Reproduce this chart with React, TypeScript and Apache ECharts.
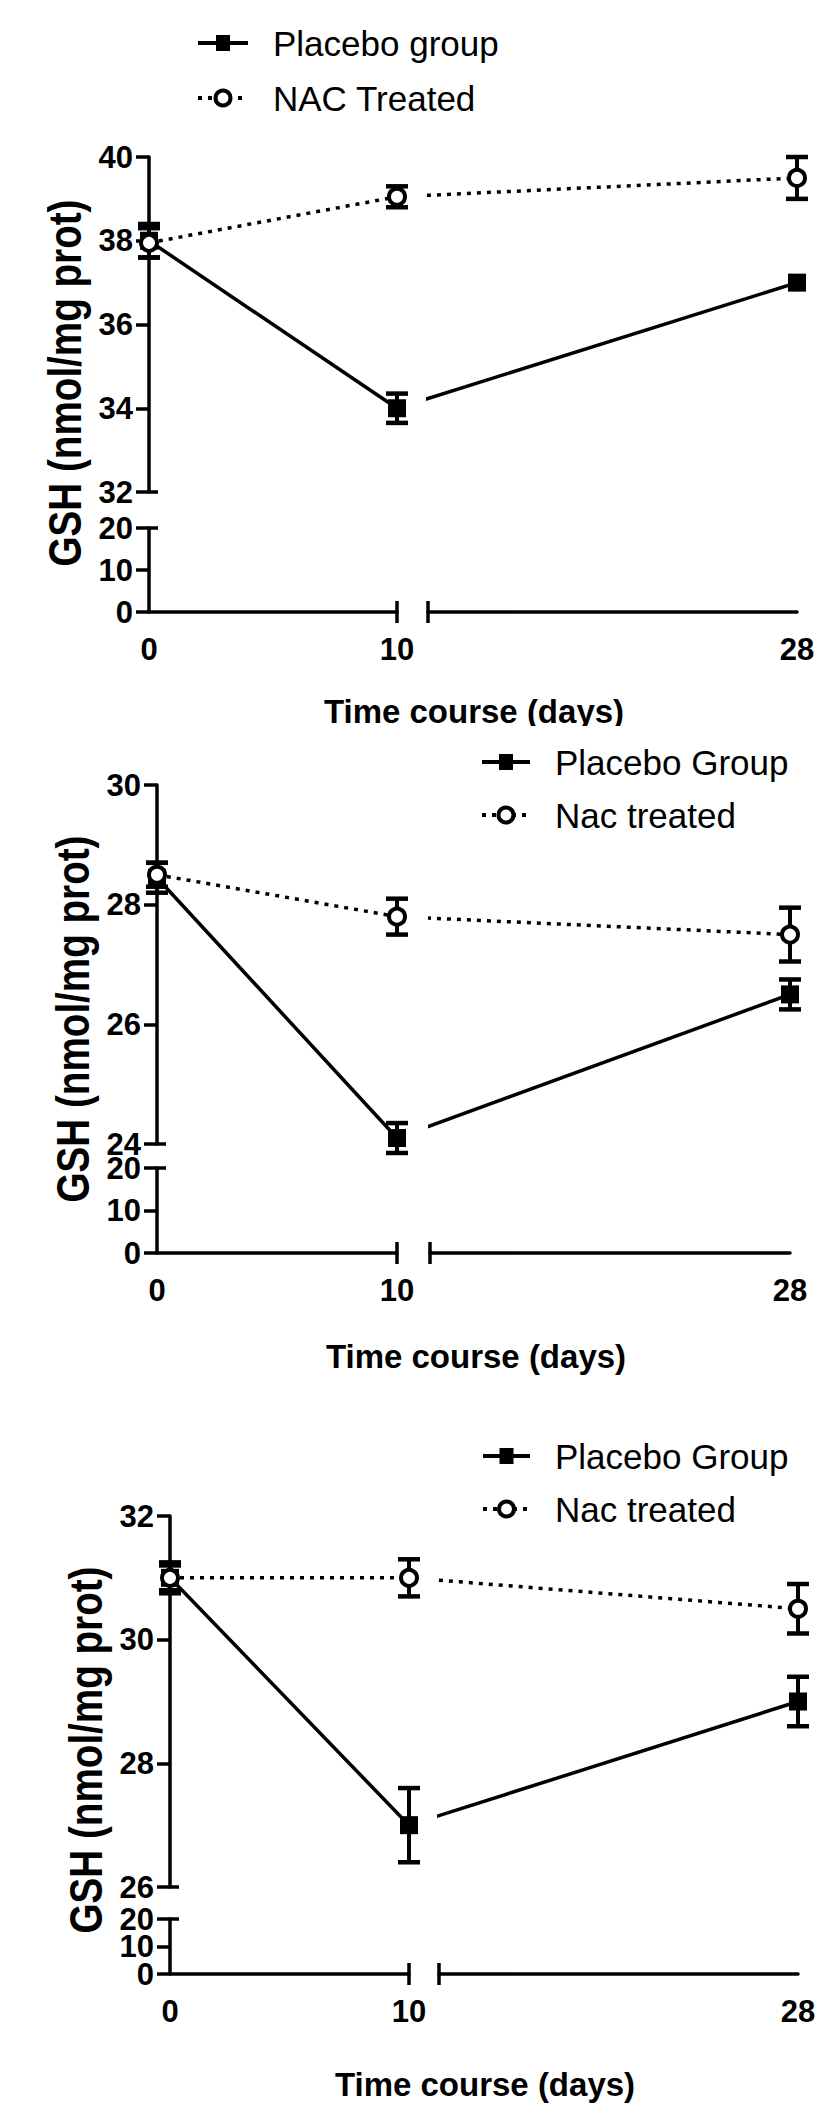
import React, { useEffect, useRef } from "react";
import * as echarts from "echarts";

// ---------------- DATA ----------------
const days = [0, 10, 28];
const xTickLabels = ["0", "10", "28"];
const xTitleText = "Time course (days)";
const yTitleText = "GSH (nmol/mg prot)";

const legendNames1 = ["Placebo group", "NAC Treated"];
const legendNames23 = ["Placebo Group", "Nac treated"];

const p1Placebo = [38.0, 34.0, 37.0];
const p1PlaceboErr = [0.4, 0.35, 0.1];
const p1Nac = [37.95, 39.05, 39.5];
const p1NacErr = [0.35, 0.25, 0.5];

const p2Placebo = [28.45, 24.1, 26.5];
const p2PlaceboErr = [0.25, 0.25, 0.25];
const p2Nac = [28.5, 27.8, 27.5];
const p2NacErr = [0.2, 0.3, 0.45];

const p3Placebo = [31.0, 27.0, 29.0];
const p3PlaceboErr = [0.25, 0.6, 0.4];
const p3Nac = [31.0, 31.0, 30.5];
const p3NacErr = [0.2, 0.3, 0.4];

const p1YRange = [32, 40];
const p2YRange = [24, 30];
const p3YRange = [26, 32];
const yStep = 2;
const lowYTicks = [0, 10, 20];

// ---------------- LAYOUT ----------------
const FONT = "'Liberation Sans', Arial, sans-serif";

const layouts = [
  { axisX: 149, yTopPx: 157, yBotPx: 492, lowTopPx: 528, zeroPx: 612, x10: 397, xRight: 428, x28: 797,
    legX0: 198, legX1: 248, legTextX: 273, legY: [43, 98], yTitleX: 65, yTitleY: 383, xTitleX: 474, xTitleY: 711 },
  { axisX: 157, yTopPx: 785, yBotPx: 1144, lowTopPx: 1168, zeroPx: 1253, x10: 397, xRight: 430, x28: 790,
    legX0: 482, legX1: 530, legTextX: 555, legY: [762, 815], yTitleX: 73, yTitleY: 1019, xTitleX: 476, xTitleY: 1356 },
  { axisX: 170, yTopPx: 1516, yBotPx: 1887, lowTopPx: 1919, zeroPx: 1974, x10: 409, xRight: 439, x28: 798,
    legX0: 483, legX1: 530, legTextX: 555, legY: [1456, 1509], yTitleX: 86, yTitleY: 1750, xTitleX: 485, xTitleY: 2084 },
];

const panels = [
  { names: legendNames1, placebo: p1Placebo, placeboErr: p1PlaceboErr, nac: p1Nac, nacErr: p1NacErr, yRange: p1YRange },
  { names: legendNames23, placebo: p2Placebo, placeboErr: p2PlaceboErr, nac: p2Nac, nacErr: p2NacErr, yRange: p2YRange },
  { names: legendNames23, placebo: p3Placebo, placeboErr: p3PlaceboErr, nac: p3Nac, nacErr: p3NacErr, yRange: p3YRange },
];

const LW = 3.5;
const SQUARE = 18;
const CIRCLE = 16;

function renderErr(params: any, api: any) {
  const x = api.value(0);
  const y = api.value(1);
  const e = api.value(2);
  const top = api.coord([x, y + e]);
  const bot = api.coord([x, y - e]);
  if (bot[1] - top[1] < SQUARE + 2) return null;
  const half = 11;
  const st = { stroke: "#000", lineWidth: 4.5 };
  return {
    type: "group",
    children: [
      { type: "line", shape: { x1: top[0], y1: top[1], x2: bot[0], y2: bot[1] }, style: { stroke: "#000", lineWidth: 4 } },
      { type: "line", shape: { x1: top[0] - half, y1: top[1], x2: top[0] + half, y2: top[1] }, style: st },
      { type: "line", shape: { x1: bot[0] - half, y1: bot[1], x2: bot[0] + half, y2: bot[1] }, style: st },
    ],
  };
}

function buildOption() {
  const grid: any[] = [];
  const xAxis: any[] = [];
  const yAxis: any[] = [];
  const series: any[] = [];
  const graphic: any[] = [];

  const axisLine = { show: true, onZero: false, lineStyle: { color: "#000", width: LW } };
  const tickLabel = {
    color: "#000", fontSize: 31, fontWeight: "bold", fontFamily: FONT,
    showMinLabel: true, showMaxLabel: true, hideOverlap: false,
  };
  const xFormatter = (v: number) => {
    const k = days.indexOf(v);
    return k >= 0 ? xTickLabels[k] : "";
  };
  const lowMin = lowYTicks[0];
  const lowMax = lowYTicks[lowYTicks.length - 1];
  const lowEnds = [lowMin, lowMax];
  const lowMids = lowYTicks.slice(1, -1);

  panels.forEach((p, i) => {
    const L = layouts[i];
    const b = grid.length;
    const topH = L.yBotPx - L.yTopPx;
    const lowH = L.zeroPx - L.lowTopPx;
    const gBase = { outerBoundsMode: "none", containLabel: false, show: false };
    grid.push({ ...gBase, left: L.axisX, top: L.yTopPx, width: L.x10 - L.axisX, height: topH });
    grid.push({ ...gBase, left: L.xRight, top: L.yTopPx, width: L.x28 - L.xRight, height: topH });
    grid.push({ ...gBase, left: L.axisX, top: L.lowTopPx, width: L.x10 - L.axisX, height: lowH });
    grid.push({ ...gBase, left: L.xRight, top: L.lowTopPx, width: L.x28 - L.xRight, height: lowH });

    const rightMin = days[1] + ((L.xRight - L.x10) * (days[2] - days[1])) / (L.x28 - L.x10);

    xAxis.push({ type: "value", gridIndex: b, min: days[0], max: days[1], show: false });
    xAxis.push({ type: "value", gridIndex: b + 1, min: rightMin, max: days[2], show: false });
    xAxis.push({
      type: "value", gridIndex: b + 2, min: days[0], max: days[1], interval: days[1] - days[0],
      axisLine, axisTick: { show: false }, splitLine: { show: false },
      axisLabel: { ...tickLabel, margin: 22, formatter: xFormatter },
    });
    xAxis.push({
      type: "value", gridIndex: b + 3, min: rightMin, max: days[2],
      axisLine, axisTick: { show: false }, splitLine: { show: false },
      axisLabel: { ...tickLabel, margin: 22, formatter: xFormatter, customValues: [days[2]], showMinLabel: false },
    });

    const yTick = { show: true, length: 13, lineStyle: { color: "#000", width: LW } };
    // index within this panel's y axes: b (top-left), b+1 (top-right), b+2 (low-left), b+3 (low-right), then extra
    yAxis.push({
      type: "value", gridIndex: b, min: p.yRange[0], max: p.yRange[1], interval: yStep,
      axisLine, axisTick: yTick, splitLine: { show: false },
      axisLabel: { ...tickLabel, margin: 16 },
    });
    yAxis.push({ type: "value", gridIndex: b + 1, min: p.yRange[0], max: p.yRange[1], show: false });
    yAxis.push({
      type: "value", gridIndex: b + 2, min: lowMin, max: lowMax, interval: lowYTicks[1] - lowYTicks[0],
      axisLine, axisTick: { ...yTick, customValues: lowYTicks }, splitLine: { show: false },
      axisLabel: { ...tickLabel, margin: 16, customValues: lowEnds },
    });
    yAxis.push({ type: "value", gridIndex: b + 3, min: lowMin, max: lowMax, show: false });

    const groups = [
      { name: p.names[0], vals: p.placebo, errs: p.placeboErr, symbol: "rect", size: SQUARE,
        itemStyle: { color: "#000" }, lineType: "solid" as any },
      { name: p.names[1], vals: p.nac, errs: p.nacErr, symbol: "circle", size: CIRCLE,
        itemStyle: { color: "#fff", borderColor: "#000", borderWidth: 4 }, lineType: [4, 6] as any },
    ];

    groups.forEach((g) => {
      const leftIdx = days.map((d, k) => k).filter((k) => days[k] <= days[1]);
      const rightIdx = days.map((d, k) => k).filter((k) => days[k] >= days[1]);
      const common = {
        type: "line", name: g.name, symbol: g.symbol, symbolSize: g.size, showSymbol: true,
        itemStyle: g.itemStyle, lineStyle: { color: "#000", width: LW, type: g.lineType },
        clip: true, z: 3, silent: true, animation: false, emphasis: { disabled: true },
      };
      series.push({ ...common, xAxisIndex: b, yAxisIndex: b, data: leftIdx.map((k) => [days[k], g.vals[k]]) });
      series.push({ ...common, xAxisIndex: b + 1, yAxisIndex: b + 1, data: rightIdx.map((k) => [days[k], g.vals[k]]) });
      series.push({
        type: "custom", name: g.name, xAxisIndex: b, yAxisIndex: b, z: 2, silent: true,
        renderItem: renderErr, data: leftIdx.map((k) => [days[k], g.vals[k], g.errs[k]]),
      });
      series.push({
        type: "custom", name: g.name, xAxisIndex: b + 1, yAxisIndex: b + 1, z: 2, silent: true,
        renderItem: renderErr,
        data: rightIdx.filter((k) => days[k] > days[1]).map((k) => [days[k], g.vals[k], g.errs[k]]),
      });
    });

    const ls = { stroke: "#000", lineWidth: LW };
    // axis break caps
    graphic.push({ type: "line", z: 10, shape: { x1: L.axisX, y1: L.yBotPx, x2: L.axisX + 9, y2: L.yBotPx }, style: ls });
    graphic.push({ type: "line", z: 10, shape: { x1: L.axisX, y1: L.lowTopPx, x2: L.axisX + 9, y2: L.lowTopPx }, style: ls });
    graphic.push({ type: "line", z: 10, shape: { x1: L.x10, y1: L.zeroPx - 11, x2: L.x10, y2: L.zeroPx + 11 }, style: ls });
    graphic.push({ type: "line", z: 10, shape: { x1: L.xRight, y1: L.zeroPx - 11, x2: L.xRight, y2: L.zeroPx + 11 }, style: ls });

    // legend
    const mid = (L.legX0 + L.legX1) / 2;
    graphic.push({ type: "line", z: 10, shape: { x1: L.legX0, y1: L.legY[0], x2: L.legX1, y2: L.legY[0] }, style: { stroke: "#000", lineWidth: 4 } });
    graphic.push({ type: "rect", z: 11, shape: { x: mid - 7, y: L.legY[0] - 8, width: 14, height: 16 }, style: { fill: "#000" } });
    graphic.push({ type: "line", z: 10, shape: { x1: L.legX0, y1: L.legY[1], x2: L.legX1, y2: L.legY[1] }, style: { stroke: "#000", lineWidth: 4, lineDash: [4, 6] } });
    graphic.push({ type: "circle", z: 11, shape: { cx: mid, cy: L.legY[1], r: 7.5 }, style: { fill: "#fff", stroke: "#000", lineWidth: 4 } });
    [0, 1].forEach((r) => {
      graphic.push({
        type: "text", z: 11, x: L.legTextX, y: L.legY[r],
        style: { text: p.names[r], fontSize: 35, fontFamily: FONT, fill: "#000",
          textAlign: "left", align: "left", textVerticalAlign: "middle", verticalAlign: "middle" },
      });
    });

    // titles
    graphic.push({
      type: "text", z: 11, x: L.xTitleX, y: L.xTitleY,
      style: { text: xTitleText, fontSize: 33, fontWeight: "bold", fontFamily: FONT, fill: "#000",
        textAlign: "center", align: "center", textVerticalAlign: "middle", verticalAlign: "middle" },
    });
    graphic.push({
      type: "text", z: 11, x: L.yTitleX, y: L.yTitleY, rotation: Math.PI / 2, scaleX: 0.84,
      style: { text: yTitleText, fontSize: 46, fontWeight: "bold", fontFamily: FONT, fill: "#000",
        textAlign: "center", align: "center", textVerticalAlign: "middle", verticalAlign: "middle" },
    });
  });

  // extra y axes (one per panel) carrying the middle labels of the lower axis segment
  panels.forEach((p, i) => {
    yAxis.push({
      type: "value", gridIndex: i * 4 + 2, min: lowMin, max: lowMax, position: "left",
      axisLine: { show: false }, axisTick: { show: false }, splitLine: { show: false },
      axisLabel: { ...tickLabel, margin: 16, customValues: lowMids },
    });
  });

  // first panel's axis title is cut off at the bottom in the source image
  graphic.push({ type: "rect", z: 100, shape: { x: 280, y: 726, width: 400, height: 16 }, style: { fill: "#fff" } });

  return {
    animation: false,
    backgroundColor: "#fff",
    grid,
    xAxis,
    yAxis,
    series,
    graphic: { elements: graphic },
  };
}

export default function App() {
  const ref = useRef<HTMLDivElement>(null);
  useEffect(() => {
    if (!ref.current) return;
    const chart = echarts.init(ref.current, null, { renderer: "svg" });
    chart.setOption(buildOption() as any);
    return () => chart.dispose();
  }, []);
  return (
    <div
      ref={ref}
      style={{ position: "absolute", left: 0, top: 0, width: 815, height: 2103, background: "#fff" }}
    />
  );
}
